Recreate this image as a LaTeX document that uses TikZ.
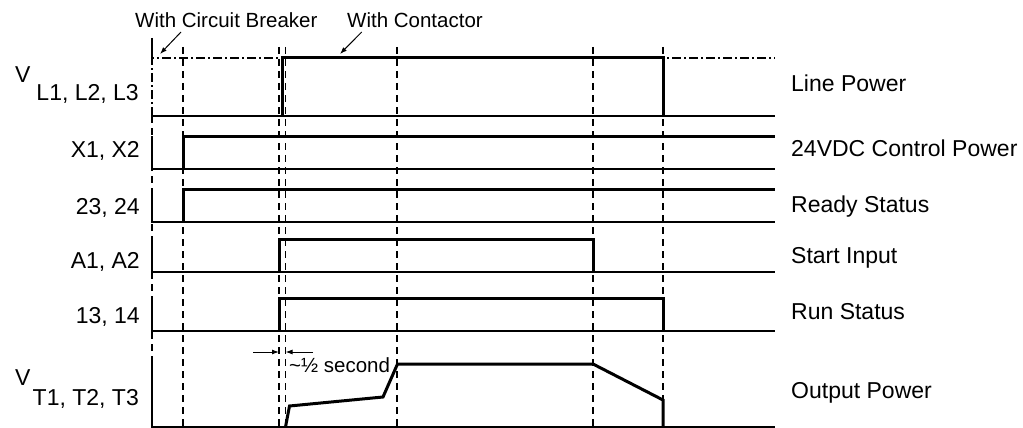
\documentclass[tikz,border=0pt]{standalone}
\usepackage{fontspec}
\setmainfont{Liberation Sans}
\usetikzlibrary{arrows.meta}
\begin{document}
\begin{tikzpicture}[x=1pt, y=-1pt, >={Latex[length=7pt,width=5pt]},
    sig/.style={line width=3pt},
    base/.style={line width=1.6pt},
    guide/.style={line width=1.3pt, dash pattern=on 7pt off 5pt},
    chain/.style={line width=1.8pt, dash pattern=on 9pt off 3pt on 2pt off 3pt},
    rowlbl/.style={font=\fontsize{23}{27}\selectfont, inner sep=0pt},
    note/.style={font=\fontsize{20.5}{24}\selectfont, inner sep=0pt}]
    \useasboundingbox (0,0) rectangle (1023,428);

    % 1. Dashed time marks
    \foreach \t in {183,279,285.5,397,593,663}
        \draw[guide] (\t,47) -- (\t,428);
    \draw[guide] (152,116) -- (152,427);

    % 2. Axis and baselines of the rows
    \foreach \ya/\yb in {136/169,189/222,239/272,298/331,360/427}
        \draw[base] (152,\ya) -- (152,\yb) -- (775,\yb);
    \draw[base] (152,38) -- (152,58);
    \draw[base] (152,116) -- (775,116);
    \draw[chain] (152,116) -- (152,58) -- (775,58);

    % 3. Signals
    \draw[sig] (282,116) -- (282,58) -- (663,58) -- (663,116);
    \draw[sig] (183,169) -- (183,136) -- (775,136);
    \draw[sig] (183,222) -- (183,189) -- (775,189);
    \draw[sig] (279,272) -- (279,239) -- (593,239) -- (593,272);
    \draw[sig] (279,331) -- (279,298) -- (663,298) -- (663,331);
    \draw[sig] (285.5,427) -- (289.5,406) -- (383,397) -- (397.5,364)
        -- (593,364) -- (663,400) -- (663,427);

    % 4. Notes at the top
    \node[note, anchor=base west] (cb) at (135,28) {With Circuit Breaker};
    \node[note, anchor=base west] (ct) at (347,28) {With Contactor};
    \coordinate (cbfrom) at (181,32);
    \coordinate (cbto) at (160,54);
    \coordinate (ctfrom) at (361.7,32);
    \coordinate (ctto) at (340,54);
    \draw[->, line width=1pt] (cbfrom) -- (cbto);
    \draw[->, line width=1pt] (ctfrom) -- (ctto);

    % 5. Half second delay
    \coordinate (dla) at (253,352);
    \coordinate (dlb) at (279,352);
    \coordinate (dlc) at (313,352);
    \coordinate (dld) at (285.5,352);
    \draw[->, line width=1pt] (dla) -- (dlb);
    \draw[->, line width=1pt] (dlc) -- (dld);
    \node[note, anchor=base west] (half) at (289,372.7) {\textasciitilde½ second};

    % 6. Terminal labels
    \node[rowlbl, anchor=base west] (vl) at (15,83) {V};
    \node[rowlbl, anchor=base east] (lsub) at (139,100.7) {L1, L2, L3};
    \node[rowlbl, anchor=base east] (x12) at (140,157) {X1, X2};
    \node[rowlbl, anchor=base east] (t2324) at (140,214) {23, 24};
    \node[rowlbl, anchor=base east] (a12) at (140,268) {A1, A2};
    \node[rowlbl, anchor=base east] (t1314) at (140,323) {13, 14};
    \node[rowlbl, anchor=base west] (vt) at (15,385) {V};
    \node[rowlbl, anchor=base east] (tsub) at (139,405) {T1, T2, T3};

    % 7. Signal names
    \node[rowlbl, anchor=base west] (linepwr) at (791,91.7) {Line Power};
    \node[rowlbl, anchor=base west] (ctrlpwr) at (791,156) {24VDC Control Power};
    \node[rowlbl, anchor=base west] (ready) at (791,212.7) {Ready Status};
    \node[rowlbl, anchor=base west] (start) at (791,263.3) {Start Input};
    \node[rowlbl, anchor=base west] (run) at (791,319.3) {Run Status};
    \node[rowlbl, anchor=base west] (outpwr) at (791,398.3) {Output Power};
\end{tikzpicture}
\end{document}
